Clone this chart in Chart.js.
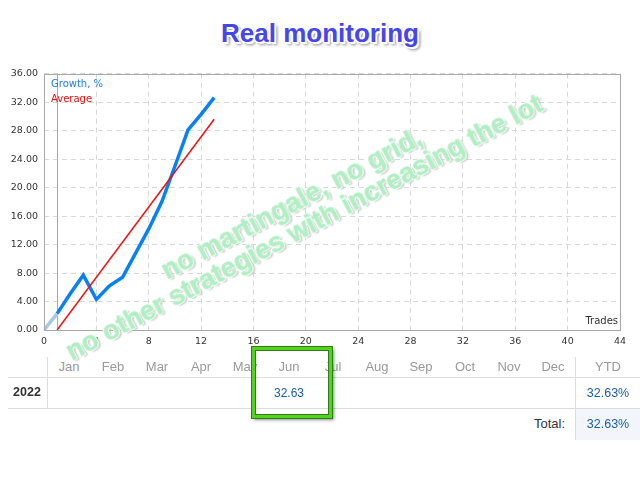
<!DOCTYPE html>
<html>
<head>
<meta charset="utf-8">
<script src="https://cdn.jsdelivr.net/npm/chart.js@4.4.1/dist/chart.umd.min.js"></script>
<style>
  body { margin: 0; background: #fff; }
  #page { position: relative; width: 640px; height: 480px; overflow: hidden; font-family: 'Liberation Sans', Arial, sans-serif; }
  #title { position: absolute; left: 0; top: 18px; width: 640px; text-align: center; font: bold 26px 'Liberation Sans', Arial, sans-serif; color: #4646ee;
    text-shadow: -1px -1px 0 #fff, 1px -1px 0 #fff, -1px 1px 0 #fff, 1px 1px 0 #fff, 0 -2px 0 #fff, -2px 0 0 #fff, 2px 2px 0 #fff, 3px 3px 3px #888; }
  #chartBox { position: absolute; left: 0; top: 62px; width: 640px; height: 290px; }
  .legend { position: absolute; left: 51px; font: 10px 'DejaVu Sans', sans-serif; }
  #trades { position: absolute; right: 22px; top: 315px; font: 10px 'DejaVu Sans', sans-serif; color: #333; }
  #watermark { position: absolute; left: 18px; top: 189px; width: 560px; text-align: center; font: bold 27px 'Liberation Sans', Arial, sans-serif; line-height: 27px;
    color: #b2eec4; transform: rotate(-28deg); transform-origin: 50% 50%; -webkit-text-stroke: 0.6px #b2eec4;
    text-shadow: -1px -1px 0 #fff, 1px -1px 0 #fff, -1px 1px 0 #fff, 1px 1px 0 #fff, 2px 2px 2px #bbb; pointer-events: none; }
  .cell { position: absolute; text-align: center; font-size: 12.5px; }
  .hline { position: absolute; height: 1px; background: #dcdcdc; }
  .vline { position: absolute; width: 1px; background: #dcdcdc; }
  #hilite { position: absolute; left: 252px; top: 347px; width: 74px; height: 65px; border: 3px solid #52d41e;
    box-shadow: 0 0 0 1px #2f7d14, 2px 2px 3px rgba(0,0,0,0.45), inset 0 0 0 1px #2f7d14; }
</style>
</head>
<body>
<div id="page">
  <div id="title">Real monitoring</div>
  <div id="chartBox"><canvas id="growthChart"></canvas></div>
  <div class="legend" style="top:78px;color:#1d7fe6;">Growth, %</div>
  <div class="legend" style="top:93px;color:#e01010;">Average</div>
  <div id="trades">Trades</div>
  <div id="table"></div>
  <div id="hilite"></div>
  <div id="watermark">no martingale, no grid,<br>no other strategies with increasing the lot</div>
</div>
<script>
// growth curve (trades -> %)
const trades = [1, 2, 3, 4, 5, 6, 7, 8, 9, 10, 11, 12, 13];
const growth = [2.3, 5.1, 7.7, 4.3, 6.2, 7.4, 10.8, 14.2, 18.0, 23.0, 28.1, 30.3, 32.63];
// first faded segment before the first trade
const startTrades = [0, 1];
const startGrowth = [0, 2.3];
// average line
const avgTrades = [1, 13];
const avgGrowth = [0, 29.6];

// table
const months = ['Jan', 'Feb', 'Mar', 'Apr', 'May', 'Jun', 'Jul', 'Aug', 'Sep', 'Oct', 'Nov', 'Dec'];
const year = '2022';
const monthValues = ['', '', '', '', '', '32.63', '', '', '', '', '', ''];
const ytd = '32.63%';
const total = '32.63%';

function toPoints(xs, ys) {
    return xs.map((x, i) => ({ x: x, y: ys[i] }));
}

const frame = {
    id: 'frame',
    beforeDatasetsDraw(chart) {
        const { ctx, chartArea: a, scales } = chart;
        const x1 = Math.round(scales.x.getPixelForValue(1)) + 0.5;
        ctx.save();
        ctx.strokeStyle = '#a8a8a8';
        ctx.lineWidth = 1;
        ctx.beginPath();
        ctx.moveTo(x1, a.top);
        ctx.lineTo(x1, a.bottom);
        ctx.stroke();
        ctx.restore();
    },
    afterDraw(chart) {
        const { ctx, chartArea: a } = chart;
        ctx.save();
        ctx.strokeStyle = '#a8a8a8';
        ctx.lineWidth = 1;
        ctx.strokeRect(Math.round(a.left) + 0.5, Math.round(a.top) + 0.5, Math.round(a.right - a.left), Math.round(a.bottom - a.top));
        ctx.restore();
    }
};

new Chart(document.getElementById('growthChart').getContext('2d'), {
    type: 'line',
    data: {
        datasets: [
            { data: toPoints(startTrades, startGrowth), borderColor: '#aac8e6', borderWidth: 3.5, pointRadius: 0 },
            { data: toPoints(avgTrades, avgGrowth), borderColor: '#ee1111', borderWidth: 1.5, pointRadius: 0 },
            { data: toPoints(trades, growth), borderColor: '#0a80f5', borderWidth: 3.5, pointRadius: 0 }
        ]
    },
    options: {
        responsive: true,
        maintainAspectRatio: false,
        animation: false,
        layout: { padding: { top: 10, right: 20, left: 0, bottom: 0 } },
        plugins: { legend: { display: false }, tooltip: { enabled: false } },
        scales: {
            x: {
                type: 'linear', min: 0, max: 44,
                afterFit: (s) => { s.height = 22; },
                ticks: { stepSize: 4, padding: 6, color: '#333', font: { family: 'DejaVu Sans', size: 9.5 }, maxRotation: 0 },
                grid: { color: '#d8d8d8', drawTicks: false },
                border: { display: true, color: '#a8a8a8', dash: [5, 4] }
            },
            y: {
                min: 0, max: 36,
                afterFit: (s) => { s.width = 44; },
                ticks: { stepSize: 4, padding: 6, color: '#333', font: { family: 'DejaVu Sans', size: 9.5 }, callback: (v) => v.toFixed(2) },
                grid: { color: '#d8d8d8', drawTicks: false },
                border: { display: false, dash: [5, 4] }
            }
        }
    },
    plugins: [frame]
});

// monthly table
const table = document.getElementById('table');
function addEl(cls, style, text) {
    const d = document.createElement('div');
    d.className = cls;
    d.setAttribute('style', style);
    if (text) d.textContent = text;
    table.appendChild(d);
}
addEl('hline', 'left:8px;top:377px;width:632px;');
addEl('hline', 'left:8px;top:408px;width:632px;');
addEl('vline', 'left:47px;top:357px;height:51px;');
addEl('vline', 'left:575px;top:357px;height:83px;');
addEl('cell', 'left:576px;top:409px;width:64px;height:31px;background:#f2f5fb;');
months.forEach((m, i) => {
    const left = 47 + i * 44;
    addEl('cell', `left:${left}px;top:359px;width:44px;color:#9a9a9a;font-size:13px;`, m);
    if (monthValues[i]) addEl('cell', `left:${left - 10}px;top:386px;width:64px;color:#1a5ea8;font-size:12px;`, monthValues[i]);
});
addEl('cell', 'left:576px;top:359px;width:64px;color:#9a9a9a;font-size:13px;', 'YTD');
addEl('cell', 'left:0px;top:385px;width:54px;color:#333;font-weight:bold;font-size:12.5px;', year);
addEl('cell', 'left:576px;top:386px;width:64px;color:#1a5ea8;font-size:12.5px;', ytd);
addEl('cell', 'left:480px;top:416px;width:85px;text-align:right;color:#333;font-size:13px;', 'Total:');
addEl('cell', 'left:576px;top:417px;width:64px;color:#1a5ea8;font-size:12.5px;', total);
</script>
</body>
</html>
